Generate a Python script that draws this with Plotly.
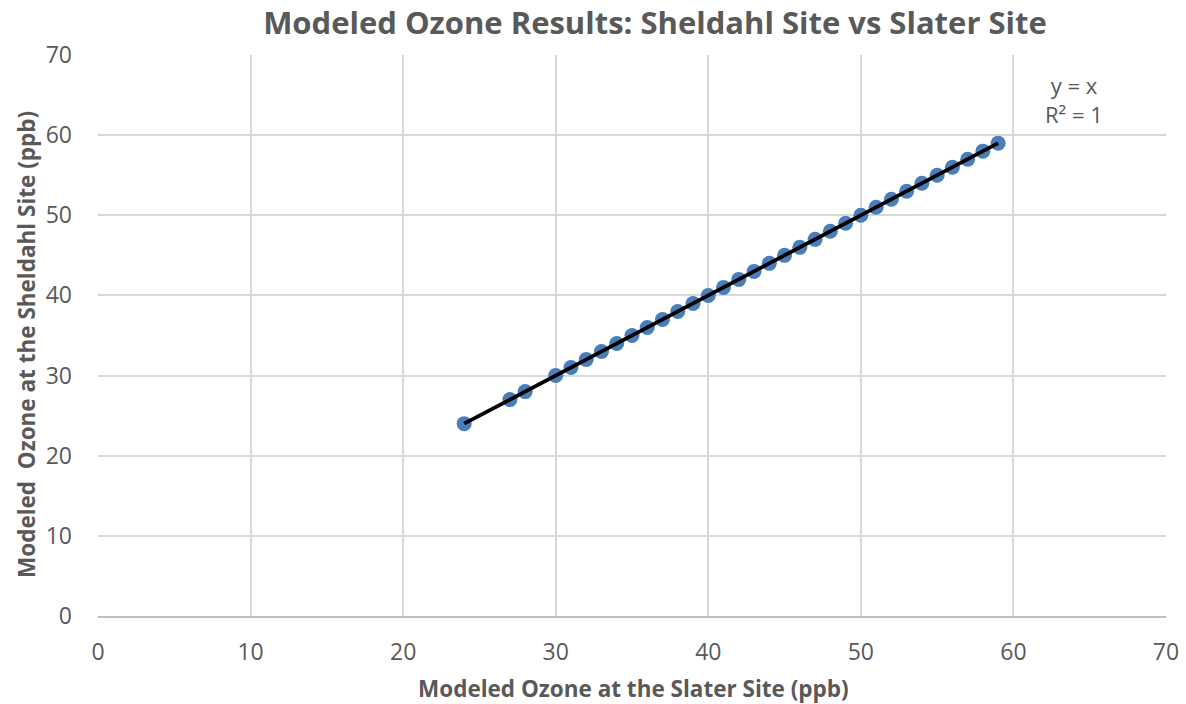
import numpy as np
import plotly.graph_objects as go

slater = [24, 27, 28, 30, 31, 32, 33, 34, 35, 36, 37, 38, 39, 40, 41, 42, 43, 44, 45,
          46, 47, 48, 49, 50, 51, 52, 53, 54, 55, 56, 57, 58, 59]
sheldahl = [24, 27, 28, 30, 31, 32, 33, 34, 35, 36, 37, 38, 39, 40, 41, 42, 43, 44, 45,
            46, 47, 48, 49, 50, 51, 52, 53, 54, 55, 56, 57, 58, 59]
tick_vals = [0, 10, 20, 30, 40, 50, 60, 70]

x = np.array(slater, dtype=float)
y = np.array(sheldahl, dtype=float)
m, b = np.polyfit(x, y, 1)
fit_x = np.array([x.min(), x.max()])
fit_y = m * fit_x + b

FONT = "Open Sans"
GRAY = "#595959"
PLOT_W = 1186 - 98 - 20

fig = go.Figure()
fig.add_trace(go.Scatter(x=slater, y=sheldahl, mode="markers",
                         marker=dict(size=15, color="#4A7EBB"),
                         showlegend=False, hoverinfo="x+y"))
fig.add_trace(go.Scatter(x=fit_x, y=fit_y, mode="lines",
                         line=dict(color="black", width=3.8),
                         showlegend=False, hoverinfo="skip"))

fig.update_layout(
    width=1186, height=704,
    margin=dict(l=98, r=20, t=55, b=88, autoexpand=False),
    paper_bgcolor="white", plot_bgcolor="white",
    font=dict(family=FONT, color=GRAY),
    title=dict(text="<b>Modeled Ozone Results: Sheldahl Site vs Slater Site</b>",
               xref="container", x=655 / 1186, xanchor="center",
               y=1 - 23 / 704, yanchor="middle",
               font=dict(size=31, color=GRAY, family=FONT)),
    xaxis=dict(range=[0, 70], tickvals=tick_vals, showgrid=True, gridcolor="#D9D9D9",
               gridwidth=1.5, zeroline=False, showline=True, linecolor="#BFBFBF",
               linewidth=1.5, ticks="", tickfont=dict(size=23, color=GRAY),
               ticklabelstandoff=15, automargin=False),
    yaxis=dict(range=[0, 70], tickvals=tick_vals, showgrid=True, gridcolor="#D9D9D9",
               gridwidth=1.5, zeroline=False, showline=False, ticks="",
               tickfont=dict(size=23, color=GRAY), ticklabelstandoff=25,
               automargin=False),
    annotations=[
        dict(text="y = x<br>R² = 1", x=63.95, y=64.4, xref="x", yref="y",
             showarrow=False, font=dict(size=22, color=GRAY, family=FONT),
             align="center"),
        dict(text="<b>Modeled Ozone at the Slater Site (ppb)</b>",
             x=(633 - 98) / PLOT_W, y=(616 - 688) / 561, xref="paper", yref="paper",
             xanchor="center", yanchor="middle", showarrow=False,
             font=dict(size=22.5, color=GRAY, family=FONT)),
        dict(text="<b>Modeled  Ozone at the Sheldahl Site (ppb)</b>",
             x=(27 - 98) / PLOT_W, y=(616 - 345) / 561, xref="paper", yref="paper",
             xanchor="center", yanchor="middle", showarrow=False, textangle=-90,
             font=dict(size=22.5, color=GRAY, family=FONT)),
    ],
)

fig.write_html("out.html", config={"displayModeBar": False},
               post_script="document.body.style.margin='0';document.body.style.overflow='hidden';")
